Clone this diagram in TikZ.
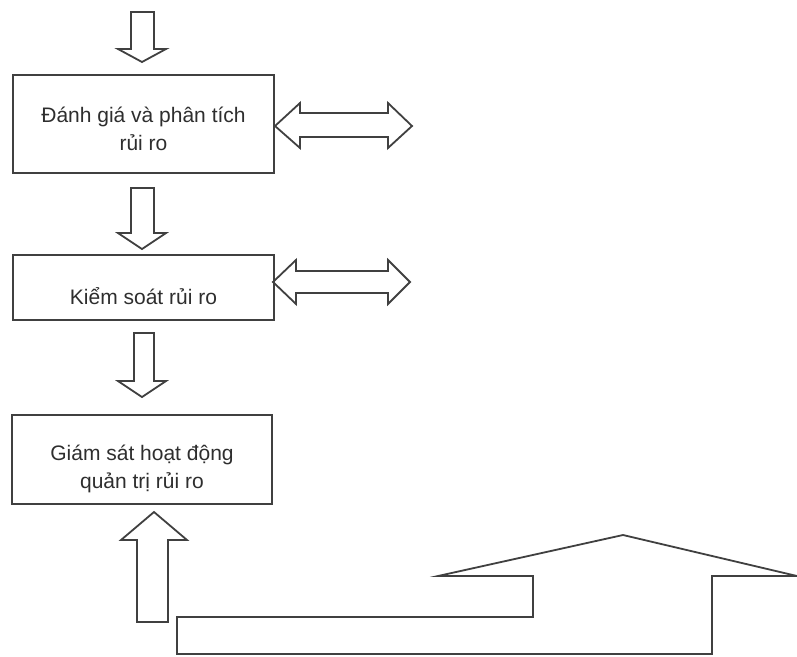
\documentclass[tikz,border=0pt]{standalone}
\usepackage{fontspec}
\setmainfont{Liberation Sans}
\begin{document}
\begin{tikzpicture}[x=1pt,y=-1pt,
  ln/.style={draw=black!75,line width=1.8pt,line join=miter},
  boxx/.style={ln,rectangle,inner sep=0pt},
  lbl/.style={align=center,inner sep=0pt,text=black!82,font=\fontsize{21}{28}\selectfont}]
\useasboundingbox (0,0) rectangle (797,656);
% boxes
\node[boxx,minimum width=261pt,minimum height=98pt] (b1) at (143.5,124) {};
\node[boxx,minimum width=261pt,minimum height=65pt] (b2) at (143.5,287.5) {};
\node[boxx,minimum width=260pt,minimum height=89pt] (b3) at (142,459.5) {};
\node[lbl] (t1) at (143.5,129) {Đánh giá và phân tích\\rủi ro};
\node[lbl] (t2) at (143.5,296) {Kiểm soát rủi ro};
\node[lbl] (t3) at (142,469) {Giám sát hoạt động\\quản trị rủi ro};
% down block arrows
\draw[ln] (131,12) -- (154,12) -- (154,49) -- (166,49) -- (142,62) -- (118,49) -- (131,49) -- cycle;
\draw[ln] (131,188) -- (154,188) -- (154,233) -- (166,233) -- (142,249) -- (118,233) -- (131,233) -- cycle;
\draw[ln] (134,333) -- (154,333) -- (154,381) -- (166,381) -- (142,397) -- (118,381) -- (134,381) -- cycle;
% up block arrow
\draw[ln] (137,622) -- (137,540) -- (121,540) -- (154,512) -- (187,540) -- (168,540) -- (168,622) -- cycle;
% double arrows
\draw[ln] (275,126) -- (300,103) -- (300,113) -- (388,113) -- (388,103) -- (412,126) -- (388,148) -- (388,137) -- (300,137) -- (300,148) -- cycle;
\draw[ln] (273,282) -- (296,260) -- (296,271) -- (388,271) -- (388,260) -- (410,282) -- (388,304) -- (388,293) -- (296,293) -- (296,304) -- cycle;
% big arrow shape
\draw[ln] (177,617) -- (533,617) -- (533,576) -- (438,576) -- (623,535) -- (797,576) -- (712,576) -- (712,654) -- (177,654) -- cycle;
\end{tikzpicture}
\end{document}
